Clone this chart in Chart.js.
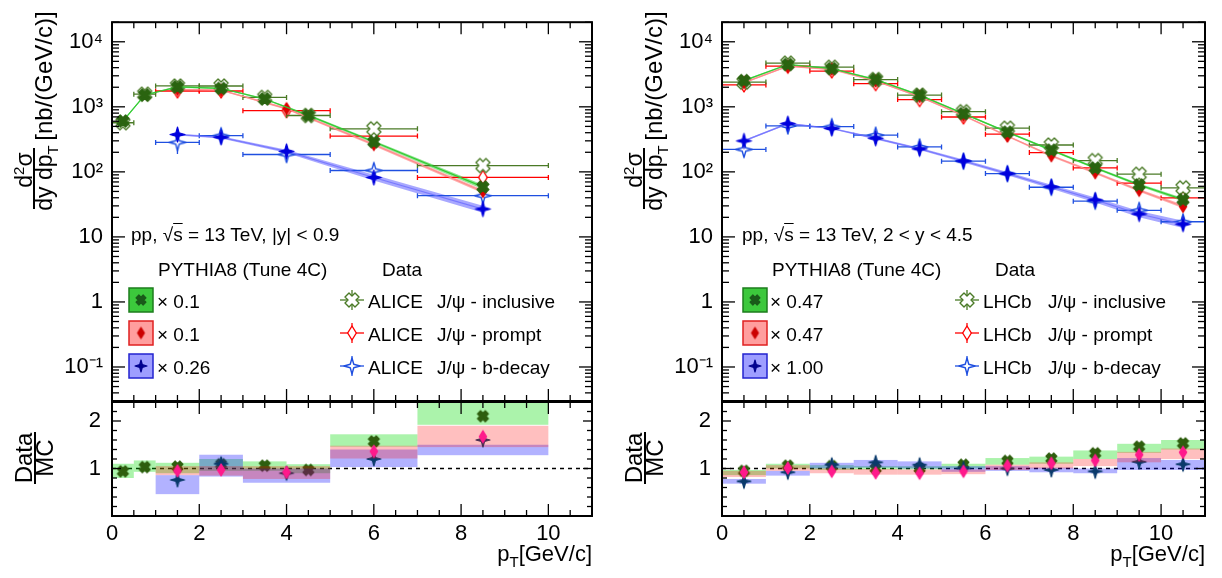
<!DOCTYPE html>
<html>
<head>
<meta charset="utf-8">
<title>J/psi cross sections vs PYTHIA8</title>
<script src="https://cdn.jsdelivr.net/npm/chart.js@4.4.1/dist/chart.umd.min.js"></script>
<style>
  html, body { margin: 0; padding: 0; background: #fff; }
  body { position: relative; width: 1222px; height: 578px; overflow: hidden;
         font-family: "Liberation Sans", Arial, Helvetica, sans-serif; color: #000; }
  canvas { position: absolute; left: 0; top: 0; }
  .t { position: absolute; white-space: nowrap; line-height: 1; font-size: 19px; }
  .rot { position: absolute; white-space: nowrap; line-height: 1; font-size: 23px;
         transform: translate(-50%, -50%) rotate(-90deg); }
  .bar { position: absolute; background: #000; width: 1.5px; }
  .sup { font-size: 15px; position: relative; top: -8px; }
  .sub { font-size: 15px; position: relative; top: 6px; }
  .ov { text-decoration: overline; }
  .xt { position: absolute; white-space: nowrap; line-height: 1; font-size: 22px; top: 543px; }
</style>
</head>
<body>
<canvas id="topL" width="1222" height="578"></canvas>
<canvas id="ratL" width="1222" height="578"></canvas>
<canvas id="topR" width="1222" height="578"></canvas>
<canvas id="ratR" width="1222" height="578"></canvas>

<!-- axis titles, left -->
<div class="rot" style="left:24px;top:170px">d<span class="sup">2</span>σ</div>
<div class="bar" style="left:33px;top:148px;height:61px"></div>
<div class="rot" style="left:44px;top:178px">dy dp<span class="sub">T</span></div>
<div class="rot" style="left:44px;top:76px;font-size:24px">[nb/(GeV/c)]</div>
<div class="rot" style="left:24px;top:458px;font-size:24px">Data</div>
<div class="bar" style="left:34px;top:432px;height:52px"></div>
<div class="rot" style="left:45px;top:458px;font-size:24px">MC</div>
<div class="xt" style="right:630px">p<span class="sub">T</span>[GeV/c]</div>

<!-- axis titles, right -->
<div class="rot" style="left:634px;top:170px">d<span class="sup">2</span>σ</div>
<div class="bar" style="left:643px;top:148px;height:61px"></div>
<div class="rot" style="left:654px;top:178px">dy dp<span class="sub">T</span></div>
<div class="rot" style="left:654px;top:76px;font-size:24px">[nb/(GeV/c)]</div>
<div class="rot" style="left:634px;top:458px;font-size:24px">Data</div>
<div class="bar" style="left:644px;top:432px;height:52px"></div>
<div class="rot" style="left:655px;top:458px;font-size:24px">MC</div>
<div class="xt" style="right:17px">p<span class="sub">T</span>[GeV/c]</div>

<!-- legend, left -->
<div class="t" style="left:131px;top:225px">pp, √<span class="ov">s</span> = 13 TeV, |y| &lt; 0.9</div>
<div class="t" style="left:158px;top:260px">PYTHIA8 (Tune 4C)</div>
<div class="t" style="left:382px;top:260px">Data</div>
<div class="t" style="left:157px;top:292px">× 0.1</div>
<div class="t" style="left:157px;top:325px">× 0.1</div>
<div class="t" style="left:157px;top:358px">× 0.26</div>
<div class="t" style="left:368px;top:292px">ALICE</div>
<div class="t" style="left:437px;top:292px">J/ψ - inclusive</div>
<div class="t" style="left:368px;top:325px">ALICE</div>
<div class="t" style="left:437px;top:325px">J/ψ - prompt</div>
<div class="t" style="left:368px;top:358px">ALICE</div>
<div class="t" style="left:437px;top:358px">J/ψ - b-decay</div>

<!-- legend, right -->
<div class="t" style="left:742px;top:225px">pp, √<span class="ov">s</span> = 13 TeV, 2 &lt; y &lt; 4.5</div>
<div class="t" style="left:772px;top:260px">PYTHIA8 (Tune 4C)</div>
<div class="t" style="left:995px;top:260px">Data</div>
<div class="t" style="left:770px;top:292px">× 0.47</div>
<div class="t" style="left:770px;top:325px">× 0.47</div>
<div class="t" style="left:770px;top:358px">× 1.00</div>
<div class="t" style="left:983px;top:292px">LHCb</div>
<div class="t" style="left:1048px;top:292px">J/ψ - inclusive</div>
<div class="t" style="left:983px;top:325px">LHCb</div>
<div class="t" style="left:1048px;top:325px">J/ψ - prompt</div>
<div class="t" style="left:983px;top:358px">LHCb</div>
<div class="t" style="left:1048px;top:358px">J/ψ - b-decay</div>

<script>
const FONT = '"Liberation Sans", Arial, Helvetica, sans-serif';

// ==========================================
// data: ALICE, |y| < 0.9
// ==========================================
const aliceIncX    = [0.25, 0.75, 1.5, 2.5, 3.5, 4.5, 6, 8.5];
const aliceIncLo   = [0, 0.5, 1, 2, 3, 4, 5, 7];
const aliceIncHi   = [0.5, 1, 2, 3, 4, 5, 7, 10];
const aliceIncData = [569, 1566, 2094, 2090, 1396, 736, 459, 125];
const aliceIncErr  = [35, 90, 120, 120, 80, 45, 40, 14];
const aliceIncMC   = [605, 1520, 2030, 1918, 1320, 740, 290, 58.7];
const aliceIncMCRel = [0.03, 0.03, 0.03, 0.03, 0.03, 0.04, 0.05, 0.08];

const aliceBinX   = [1.5, 2.5, 4, 6, 8.5];
const aliceBinLo  = [1, 2, 3, 5, 7];
const aliceBinHi  = [2, 3, 5, 7, 10];
const alicePrData = [1750, 1750, 871, 355, 82];
const alicePrErr  = [110, 110, 60, 30, 10];
const alicePrMC   = [1840, 1800, 936, 263, 50];
const alicePrMCRel = [0.03, 0.03, 0.04, 0.05, 0.06];
const aliceBData  = [284, 360, 185, 105, 43];
const aliceBErr   = [95, 75, 45, 20, 8];
const aliceBMC    = [375, 340, 207, 82, 26.8];
const aliceBMCRel = [0.03, 0.04, 0.06, 0.10, 0.12];

// Data / MC, ALICE
const aliceIncRatio  = [0.94, 1.03, 1.04, 1.09, 1.06, 0.97, 1.57, 2.10];
const aliceIncBandLo = [0.80, 0.93, 0.90, 0.95, 0.95, 0.90, 1.46, 1.92];
const aliceIncBandHi = [1.10, 1.17, 1.12, 1.20, 1.15, 1.09, 1.72, 2.42];
const alicePrRatio   = [0.95, 0.97, 0.92, 1.36, 1.67];
const alicePrBandLo  = [0.86, 0.85, 0.78, 1.21, 1.45];
const alicePrBandHi  = [1.05, 1.05, 1.05, 1.48, 1.90];
const aliceBRatio    = [0.76, 1.10, 0.90, 1.20, 1.60];
const aliceBBandLo   = [0.46, 0.83, 0.70, 1.03, 1.28];
const aliceBBandHi   = [0.86, 1.29, 1.00, 1.40, 1.50];

// ==========================================
// data: LHCb, 2 < y < 4.5
// ==========================================
const lhcbX  = [0.5, 1.5, 2.5, 3.5, 4.5, 5.5, 6.5, 7.5, 8.5, 9.5, 10.5];
const lhcbLo = [0, 1, 2, 3, 4, 5, 6, 7, 8, 9, 10];
const lhcbHi = [1, 2, 3, 4, 5, 6, 7, 8, 9, 10, 11];
const lhcbIncData = [2400, 4700, 4065, 2625, 1515, 841, 470, 259, 149, 92, 56.8];
const lhcbIncErr  = [150, 250, 220, 140, 80, 45, 25, 15, 9, 6, 4];
const lhcbIncMC   = [2526, 4476, 3871, 2625, 1515, 786, 409, 216, 115, 63, 37.4];
const lhcbIncMCRel = [0.03, 0.03, 0.03, 0.03, 0.03, 0.03, 0.03, 0.04, 0.04, 0.05, 0.06];
const lhcbPrData  = [2170, 4210, 3550, 2270, 1292, 697, 380, 198, 115, 67, 39.7];
const lhcbPrErr   = [140, 230, 200, 120, 70, 40, 22, 12, 8, 5, 3.5];
const lhcbPrMC    = [2360, 4210, 3777, 2494, 1436, 734, 355, 177, 97, 52, 29.4];
const lhcbPrMCRel = [0.03, 0.03, 0.03, 0.03, 0.03, 0.03, 0.03, 0.04, 0.04, 0.05, 0.06];
const lhcbBData   = [221, 508, 497, 367, 242, 146, 94, 58, 35.4, 25.6, 17.1];
const lhcbBErr    = [45, 40, 40, 30, 20, 12, 8, 5, 4, 3, 2.5];
const lhcbBMC     = [299, 552, 464, 328, 226, 147, 94, 59, 37, 22.5, 15.7];
const lhcbBMCRel  = [0.03, 0.03, 0.03, 0.04, 0.04, 0.05, 0.06, 0.07, 0.09, 0.11, 0.13];

// Data / MC, LHCb
const lhcbIncRatio  = [0.95, 1.06, 1.05, 1.00, 1.00, 1.08, 1.16, 1.21, 1.32, 1.46, 1.53];
const lhcbIncBandLo = [0.86, 1.00, 0.97, 0.98, 0.98, 1.00, 1.08, 1.10, 1.20, 1.33, 1.40];
const lhcbIncBandHi = [0.97, 1.10, 1.07, 1.05, 1.05, 1.10, 1.22, 1.25, 1.38, 1.52, 1.60];
const lhcbPrRatio   = [0.92, 1.01, 0.94, 0.91, 0.90, 0.94, 1.06, 1.11, 1.17, 1.29, 1.34];
const lhcbPrBandLo  = [0.82, 0.95, 0.90, 0.87, 0.87, 0.88, 0.97, 1.00, 1.05, 1.13, 1.20];
const lhcbPrBandHi  = [0.95, 1.07, 1.00, 0.99, 0.98, 0.98, 1.08, 1.13, 1.20, 1.35, 1.42];
const lhcbBRatio    = [0.73, 0.92, 1.08, 1.13, 1.08, 1.00, 1.00, 0.97, 0.94, 1.14, 1.09];
const lhcbBBandLo   = [0.68, 0.85, 1.00, 1.02, 1.00, 0.93, 0.95, 0.92, 0.90, 0.97, 0.97];
const lhcbBBandHi   = [0.78, 0.95, 1.12, 1.18, 1.15, 1.05, 1.05, 1.02, 1.00, 1.22, 1.18];

// axis ticks
const xLabelTicks = [0, 2, 4, 6, 8, 10];
const logTicks    = [0.1, 1, 10, 100, 1000, 10000];
const logLabels   = ['10⁻¹', '1', '10', '10²', '10³', '10⁴'];
const ratioTicks  = [1, 2];

// ==========================================
// markers (ROOT style shapes as small canvases)
// ==========================================
function marker(shape, h, color, filled, lw) {
  const size = Math.ceil(2 * h + 4);
  const c = document.createElement('canvas');
  c.width = c.height = size;
  const g = c.getContext('2d');
  g.translate(size / 2, size / 2);
  let p;
  if (shape === 'x') {
    const a = h * Math.SQRT2 / 1.4, w = 0.4 * a;
    p = [[-w,-a],[w,-a],[w,-w],[a,-w],[a,w],[w,w],[w,a],[-w,a],[-w,w],[-a,w],[-a,-w],[-w,-w]];
    g.rotate(Math.PI / 4);
  } else if (shape === 'diamond') {
    p = [[0,-h],[0.62*h,0],[0,h],[-0.62*h,0]];
  } else {
    const s = 0.22 * h;
    p = [[0,-h],[s,-s],[h,0],[s,s],[0,h],[-s,s],[-h,0],[-s,-s]];
  }
  g.beginPath();
  p.forEach((q, i) => i ? g.lineTo(q[0], q[1]) : g.moveTo(q[0], q[1]));
  g.closePath();
  g.lineJoin = 'round';
  g.fillStyle = filled ? color : '#fff';
  g.fill();
  g.strokeStyle = color;
  g.lineWidth = lw || 1.2;
  g.stroke();
  return c;
}

const incDataCol = '#4a7a26', prDataCol = '#ff0000', bDataCol = '#1f4fe0';
const mk = {
  incOpen: marker('x', 7, incDataCol, false, 1.4),
  prOpen:  marker('diamond', 7, prDataCol, false, 1.4),
  bOpen:   marker('star', 8, bDataCol, false, 1.4),
  incFull: marker('x', 6, '#2a6410', true),
  prFull:  marker('diamond', 6, '#dd0000', true),
  bFull:   marker('star', 7.5, '#0000dd', true),
  incRat:  marker('x', 5.5, '#2e5e0e', true),
  prRat:   marker('diamond', 6, '#ff1a8c', true),
  bRat:    marker('star', 7, '#0a3a6b', true),
  incLeg:  marker('x', 5, '#1a5a1a', true),
  prLeg:   marker('diamond', 5.5, '#cc0000', true),
  bLeg:    marker('star', 6, '#000090', true)
};

// ==========================================
// plugins
// ==========================================
function seg(ctx, x0, y0, x1, y1) {
  ctx.beginPath(); ctx.moveTo(x0, y0); ctx.lineTo(x1, y1); ctx.stroke();
}

// ROOT-like frame with inward ticks on all four sides
const rootFrame = {
  id: 'rootFrame',
  afterDraw(chart, args, o) {
    const { ctx, chartArea: a, scales: { x, y } } = chart;
    ctx.save();
    ctx.strokeStyle = '#000';
    ctx.lineWidth = 1.3;
    for (let v = x.min; v <= x.max + 1e-6; v += o.xMinor) {
      const px = x.getPixelForValue(v);
      const major = Math.abs(v / o.xMajor - Math.round(v / o.xMajor)) < 1e-6;
      const len = major ? o.xMajorLen : o.xMinorLen;
      seg(ctx, px, a.bottom, px, a.bottom - len);
      seg(ctx, px, a.top, px, a.top + len);
    }
    const yt = [];
    if (y.type === 'logarithmic') {
      for (let k = -2; k <= 4; k++) for (let m = 1; m <= 9; m++) yt.push([m * Math.pow(10, k), m === 1]);
    } else {
      for (let v = y.min; v <= y.max + 1e-6; v += o.yMinor) {
        yt.push([v, Math.abs(v / o.yMajor - Math.round(v / o.yMajor)) < 1e-6]);
      }
    }
    yt.forEach(([v, major]) => {
      if (v < y.min || v > y.max) return;
      const py = y.getPixelForValue(v);
      const len = major ? o.yMajorLen : o.yMinorLen;
      seg(ctx, a.left, py, a.left + len, py);
      seg(ctx, a.right, py, a.right - len, py);
    });
    ctx.lineWidth = 2;
    ctx.strokeRect(a.left, a.top, a.width, a.height);
    ctx.restore();
  }
};

// error bars for data points, shaded boxes for ratios
const errorBars = {
  id: 'errorBars',
  beforeDatasetDraw(chart, args) {
    const ds = chart.data.datasets[args.index];
    const { ctx, chartArea: a, scales: { x, y } } = chart;
    ctx.save();
    ctx.beginPath();
    ctx.rect(a.left, a.top, a.width, a.height);
    ctx.clip();
    if (ds.boxes) {
      const b = ds.boxes;
      ctx.fillStyle = b.color;
      b.lo.forEach((lo, i) => {
        const x0 = x.getPixelForValue(lo), x1 = x.getPixelForValue(b.hi[i]);
        const y0 = y.getPixelForValue(b.yhi[i]), y1 = y.getPixelForValue(b.ylo[i]);
        ctx.fillRect(x0, y0, x1 - x0, y1 - y0);
      });
    }
    if (ds.xlo) {
      ctx.strokeStyle = ds.barColor;
      ctx.lineWidth = 1.3;
      ds.data.forEach((p, i) => {
        const px = x.getPixelForValue(p.x), py = y.getPixelForValue(p.y);
        const x0 = x.getPixelForValue(ds.xlo[i]), x1 = x.getPixelForValue(ds.xhi[i]);
        seg(ctx, x0, py, x1, py);
        seg(ctx, x0, py - 2.5, x0, py + 2.5);
        seg(ctx, x1, py - 2.5, x1, py + 2.5);
        if (ds.yerr) {
          const e = ds.yerr[i];
          seg(ctx, px, y.getPixelForValue(p.y - e), px, y.getPixelForValue(p.y + e));
        }
      });
    }
    ctx.restore();
  }
};

// legend symbols (boxes for MC, error-bar markers for data)
const legendSym = {
  id: 'legendSym',
  afterDraw(chart, args, o) {
    if (!o || !o.rows) return;
    const ctx = chart.ctx;
    const boxes = [['#3cc83c', '#1d7d1d', mk.incLeg], ['#ff9e9e', '#e02020', mk.prLeg], ['#9e9eff', '#2323d0', mk.bLeg]];
    const data = [[incDataCol, mk.incOpen], [prDataCol, mk.prOpen], [bDataCol, mk.bOpen]];
    ctx.save();
    o.rows.forEach((ry, i) => {
      const [fill, edge, m] = boxes[i];
      ctx.fillStyle = fill;
      ctx.fillRect(o.boxX, ry - 12, 24, 24);
      ctx.strokeStyle = edge;
      ctx.lineWidth = 1.5;
      ctx.strokeRect(o.boxX, ry - 12, 24, 24);
      ctx.drawImage(m, o.boxX + 12 - m.width / 2, ry - m.height / 2);
      const [col, dm] = data[i];
      ctx.strokeStyle = col;
      ctx.lineWidth = 1.3;
      seg(ctx, o.dataX - 12, ry, o.dataX + 12, ry);
      seg(ctx, o.dataX, ry - 10, o.dataX, ry + 10);
      ctx.drawImage(dm, o.dataX - dm.width / 2, ry - dm.height / 2);
    });
    ctx.restore();
  }
};

Chart.register(rootFrame, errorBars, legendSym);
Chart.defaults.font.family = FONT;
Chart.defaults.color = '#000';

// ==========================================
// dataset builders
// ==========================================
const pts = (xs, ys) => xs.map((x, i) => ({ x, y: ys[i] }));

function mcSet(xs, mc, rel, band, line, img, order) {
  return [
    { data: pts(xs, mc.map((v, i) => v * (1 - rel[i]))), borderWidth: 0, pointRadius: 0, fill: false, order: 40 },
    { data: pts(xs, mc.map((v, i) => v * (1 + rel[i]))), borderWidth: 0, pointRadius: 0, fill: '-1', backgroundColor: band, order: 40 },
    { data: pts(xs, mc), borderColor: line, borderWidth: 1.2, pointStyle: img, pointRadius: 5, fill: false, order }
  ];
}

function dataSet(xs, ys, lo, hi, err, col, img, order) {
  return { data: pts(xs, ys), showLine: false, pointStyle: img, pointRadius: 5,
           xlo: lo, xhi: hi, yerr: err, barColor: col, order };
}

function ratioSet(xs, r, lo, hi, blo, bhi, col, img, order) {
  return { data: pts(xs, r), showLine: false, pointStyle: img, pointRadius: 5, order,
           boxes: { lo, hi, ylo: blo, yhi: bhi, color: col } };
}

const unityLine = () => ({ data: [{ x: 0, y: 1 }, { x: 11, y: 1 }], borderColor: '#000', borderWidth: 1.5,
                           borderDash: [4, 4], pointRadius: 0, fill: false, order: 50 });

function makeChart(id, area, yScale, datasets, frame, showX, legend) {
  const yw = 70, xh = showX ? 45 : 0;
  return new Chart(document.getElementById(id), {
    type: 'line',
    data: { datasets },
    options: {
      responsive: false,
      animation: false,
      events: [],
      layout: { autoPadding: false,
                padding: { left: area.l - yw, top: area.t, right: 1222 - area.r, bottom: 578 - area.b - xh } },
      plugins: { legend: { display: false }, tooltip: { enabled: false }, rootFrame: frame, legendSym: legend || {} },
      scales: {
        x: {
          type: 'linear', min: 0, max: 11,
          grid: { display: false, drawTicks: false }, border: { display: false },
          afterFit: s => { s.height = xh; },
          afterBuildTicks: s => { s.ticks = xLabelTicks.map(v => ({ value: v })); },
          ticks: { display: showX, font: { size: 22 }, padding: 5, maxRotation: 0, autoSkip: false }
        },
        y: Object.assign({
          grid: { display: false, drawTicks: false }, border: { display: false },
          afterFit: s => { s.width = yw; }
        }, yScale)
      }
    }
  });
}

const logY = {
  type: 'logarithmic', min: 0.03, max: 20000,
  afterBuildTicks: s => { s.ticks = logTicks.map(v => ({ value: v })); },
  ticks: { font: { size: 22 }, padding: 9, autoSkip: false, callback: (v) => logLabels[logTicks.indexOf(v)] }
};
const ratioY = {
  type: 'linear', min: 0, max: 2.4,
  afterBuildTicks: s => { s.ticks = ratioTicks.map(v => ({ value: v })); },
  ticks: { font: { size: 22 }, padding: 11, autoSkip: false }
};
const topFrame = { xMajor: 2, xMinor: 0.5, xMajorLen: 12, xMinorLen: 6, yMajorLen: 13, yMinorLen: 7 };
const ratFrame = { xMajor: 2, xMinor: 0.5, xMajorLen: 12, xMinorLen: 6, yMajor: 1, yMinor: 0.2, yMajorLen: 9, yMinorLen: 5 };

const bandG = 'rgba(51,204,51,0.55)', bandR = 'rgba(255,110,110,0.55)', bandB = 'rgba(110,110,255,0.6)';
const boxG = 'rgba(0,220,0,0.33)', boxR = 'rgba(255,0,0,0.25)', boxB = 'rgba(0,0,255,0.3)';

// ---------------- left: ALICE ----------------
makeChart('topL', { l: 112, t: 4, r: 592, b: 401 }, logY, [
  ...mcSet(aliceIncX, aliceIncMC, aliceIncMCRel, bandG, '#33cc33', mk.incFull, 1),
  ...mcSet(aliceBinX, alicePrMC, alicePrMCRel, bandR, '#ff8c8c', mk.prFull, 2),
  ...mcSet(aliceBinX, aliceBMC, aliceBMCRel, bandB, 'rgba(110,110,255,0.8)', mk.bFull, 3),
  dataSet(aliceIncX, aliceIncData, aliceIncLo, aliceIncHi, aliceIncErr, incDataCol, mk.incOpen, 10),
  dataSet(aliceBinX, alicePrData, aliceBinLo, aliceBinHi, alicePrErr, prDataCol, mk.prOpen, 11),
  dataSet(aliceBinX, aliceBData, aliceBinLo, aliceBinHi, aliceBErr, bDataCol, mk.bOpen, 12)
], topFrame, false, { boxX: 129, dataX: 352, rows: [300, 333, 366] });

makeChart('ratL', { l: 112, t: 402, r: 592, b: 516 }, ratioY, [
  unityLine(),
  ratioSet(aliceIncX, aliceIncRatio, aliceIncLo, aliceIncHi, aliceIncBandLo, aliceIncBandHi, boxG, mk.incRat, 3),
  ratioSet(aliceBinX, aliceBRatio, aliceBinLo, aliceBinHi, aliceBBandLo, aliceBBandHi, boxB, mk.bRat, 2),
  ratioSet(aliceBinX, alicePrRatio, aliceBinLo, aliceBinHi, alicePrBandLo, alicePrBandHi, boxR, mk.prRat, 1)
], ratFrame, true);

// ---------------- right: LHCb ----------------
makeChart('topR', { l: 722, t: 4, r: 1205, b: 401 }, logY, [
  ...mcSet(lhcbX, lhcbIncMC, lhcbIncMCRel, bandG, '#33cc33', mk.incFull, 1),
  ...mcSet(lhcbX, lhcbPrMC, lhcbPrMCRel, bandR, '#ff8c8c', mk.prFull, 2),
  ...mcSet(lhcbX, lhcbBMC, lhcbBMCRel, bandB, 'rgba(110,110,255,0.8)', mk.bFull, 3),
  dataSet(lhcbX, lhcbIncData, lhcbLo, lhcbHi, lhcbIncErr, incDataCol, mk.incOpen, 10),
  dataSet(lhcbX, lhcbPrData, lhcbLo, lhcbHi, lhcbPrErr, prDataCol, mk.prOpen, 11),
  dataSet(lhcbX, lhcbBData, lhcbLo, lhcbHi, lhcbBErr, bDataCol, mk.bOpen, 12)
], topFrame, false, { boxX: 743, dataX: 967, rows: [300, 333, 366] });

makeChart('ratR', { l: 722, t: 402, r: 1205, b: 516 }, ratioY, [
  unityLine(),
  ratioSet(lhcbX, lhcbIncRatio, lhcbLo, lhcbHi, lhcbIncBandLo, lhcbIncBandHi, boxG, mk.incRat, 3),
  ratioSet(lhcbX, lhcbBRatio, lhcbLo, lhcbHi, lhcbBBandLo, lhcbBBandHi, boxB, mk.bRat, 2),
  ratioSet(lhcbX, lhcbPrRatio, lhcbLo, lhcbHi, lhcbPrBandLo, lhcbPrBandHi, boxR, mk.prRat, 1)
], ratFrame, true);
</script>
</body>
</html>
